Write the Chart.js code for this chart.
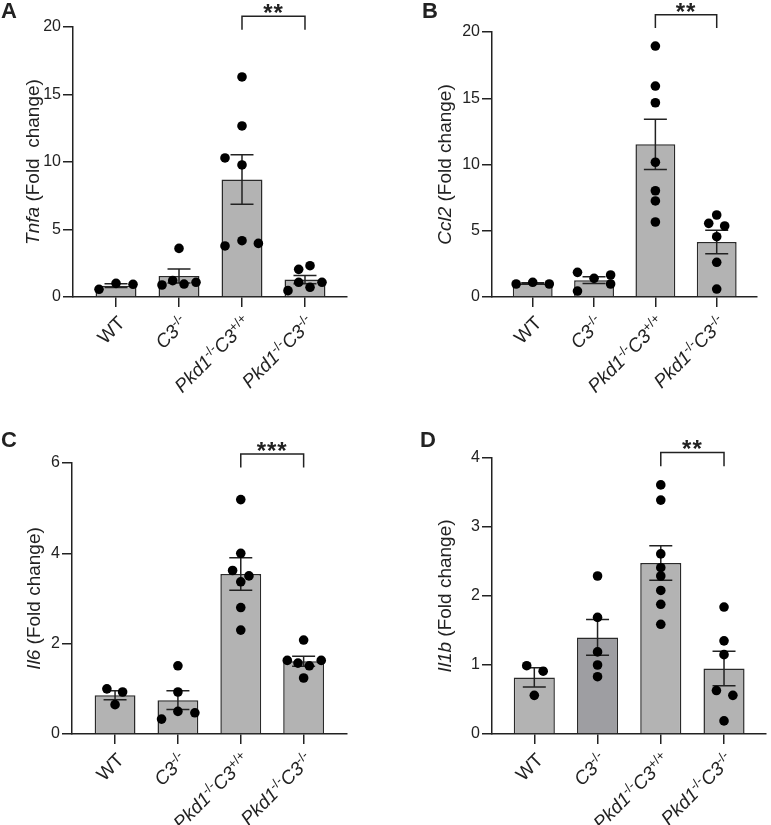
<!DOCTYPE html>
<html>
<head>
<meta charset="utf-8">
<script src="https://cdn.jsdelivr.net/npm/chart.js@4.4.1/dist/chart.umd.min.js"></script>
<style>
  body { margin: 0; background: #fff; }
  #wrap { position: relative; width: 771px; height: 825px; }
  canvas { position: absolute; }
</style>
</head>
<body>
<div id="wrap">
  <canvas id="panelA" width="386" height="412" style="left:0;top:0"></canvas>
  <canvas id="panelB" width="385" height="412" style="left:386px;top:0"></canvas>
  <canvas id="panelC" width="386" height="413" style="left:0;top:412px"></canvas>
  <canvas id="panelD" width="385" height="413" style="left:386px;top:412px"></canvas>
</div>
<script>
// groups (x categories)
const groups = ["WT", "C3-/-", "Pkd1-/-C3+/+", "Pkd1-/-C3-/-"];

// A - Tnfa
const tnfaTicks = [0, 5, 10, 15, 20];
const tnfaMean = [0.84, 1.55, 8.7, 1.29];
const tnfaSem = [0.14, 0.52, 1.83, 0.30];
const tnfaPoints = [
  [0.57, 1.01, 0.94],
  [0.89, 1.21, 3.6, 0.96, 1.09],
  [16.3, 12.67, 10.3, 9.78, 3.78, 4.17, 3.97],
  [0.47, 2.05, 1.09, 2.32, 0.72, 1.09]
];
const tnfaJitter = [
  [-0.27, 0, 0.27],
  [-0.27, -0.1, 0, 0.08, 0.27],
  [0, 0, -0.27, 0, -0.27, 0, 0.26],
  [-0.27, -0.1, -0.1, 0.08, 0.08, 0.27]
];

// B - Ccl2
const ccl2Ticks = [0, 5, 10, 15, 20];
const ccl2Mean = [1.02, 1.27, 11.52, 4.15];
const ccl2Sem = [0.05, 0.25, 1.9, 0.88];
const ccl2Points = [
  [0.98, 1.11, 0.98],
  [1.86, 0.45, 1.41, 1.66, 0.98],
  [18.94, 15.92, 14.66, 10.17, 8.02, 7.25, 5.66],
  [6.19, 5.56, 5.36, 4.55, 2.62, 0.6]
];
const ccl2Jitter = [
  [-0.27, 0, 0.27],
  [-0.27, -0.27, 0, 0.27, 0.27],
  [0, 0, 0, 0, 0, 0, 0],
  [0, -0.13, 0.13, 0, 0, 0]
];

// C - Il6
const il6Ticks = [0, 2, 4, 6];
const il6Mean = [0.86, 0.75, 3.54, 1.61];
const il6Sem = [0.1, 0.21, 0.36, 0.11];
const il6Points = [
  [1.0, 0.93, 0.65],
  [1.51, 0.93, 0.33, 0.5, 0.47],
  [5.19, 4.0, 3.62, 3.5, 3.37, 2.8, 2.3],
  [2.08, 1.63, 1.57, 1.51, 1.63, 1.24]
];
const il6Jitter = [
  [-0.13, 0.12, 0],
  [0, 0, -0.26, 0, 0.27],
  [0, 0, -0.13, 0.13, 0, 0, 0],
  [0, -0.26, -0.09, 0.09, 0.28, 0]
];

// D - Il1b
const il1bTicks = [0, 1, 2, 3, 4];
const il1bMean = [0.82, 1.4, 2.48, 0.95];
const il1bSem = [0.14, 0.26, 0.25, 0.25];
const il1bPoints = [
  [0.99, 0.91, 0.56],
  [2.29, 1.69, 1.19, 1.0, 0.83],
  [3.61, 3.39, 2.61, 2.41, 2.29, 2.08, 1.88, 1.59],
  [1.84, 1.35, 1.15, 0.63, 0.56, 0.19]
];
const il1bJitter = [
  [-0.12, 0.14, 0],
  [0, 0, 0, 0, 0],
  [0, 0, 0, 0, 0, 0, 0, 0],
  [0, 0, 0, -0.12, 0.14, 0]
];

const sigLabels = ["**", "**", "***", "**"];

const FONT = "Arial, 'Liberation Sans', sans-serif";
const INK = "#222";
const BAR = "#b3b3b3";

function drawRichLabel(ctx, text, x, y, size) {
  const italic = text !== "WT";
  const segs = text.split(/([+-]\/[+-])/).filter(s => s).map(s => {
    const sup = /^[+-]\/[+-]$/.test(s);
    const font = sup ? `${Math.round(size * 0.68)}px ${FONT}` : `${italic ? "italic " : ""}${size}px ${FONT}`;
    ctx.font = font;
    return { s, sup, font, w: ctx.measureText(s).width };
  });
  const total = segs.reduce((a, g) => a + g.w, 0);
  ctx.save();
  ctx.translate(x, y);
  ctx.rotate(-Math.PI / 4);
  ctx.textBaseline = "alphabetic";
  ctx.textAlign = "left";
  let cx = -total;
  segs.forEach(g => {
    ctx.font = g.font;
    ctx.fillText(g.s, cx, g.sup ? -size * 0.36 : 0);
    cx += g.w;
  });
  ctx.restore();
}

const overlay = {
  id: "overlay",
  afterDatasetDraw(chart, args, p) {
    if (args.index !== 0) return;
    const x = chart.scales.x, y = chart.scales.y, ctx = chart.ctx;
    ctx.save();
    ctx.strokeStyle = INK;
    ctx.lineWidth = 1.5;
    p.mean.forEach((m, i) => {
      const cx = x.getPixelForValue(i);
      const top = y.getPixelForValue(m + p.sem[i]);
      const bot = y.getPixelForValue(m - p.sem[i]);
      ctx.beginPath();
      ctx.moveTo(cx, top); ctx.lineTo(cx, bot);
      ctx.moveTo(cx - 11.5, top); ctx.lineTo(cx + 11.5, top);
      ctx.moveTo(cx - 11.5, bot); ctx.lineTo(cx + 11.5, bot);
      ctx.stroke();
    });
    ctx.restore();
  },
  afterDraw(chart, args, p) {
    const x = chart.scales.x, y = chart.scales.y, ctx = chart.ctx;
    const area = chart.chartArea;
    ctx.save();
    ctx.fillStyle = INK;
    ctx.strokeStyle = INK;

    // x labels
    groups.forEach((g, i) => {
      drawRichLabel(ctx, g, x.getPixelForValue(i) + 10, area.bottom + 27, 19);
    });

    // y title
    ctx.save();
    ctx.translate(p.titleX, (area.top + area.bottom) / 2);
    ctx.rotate(-Math.PI / 2);
    ctx.textBaseline = "middle";
    ctx.font = `italic 19px ${FONT}`;
    const gw = ctx.measureText(p.gene).width;
    ctx.font = `19px ${FONT}`;
    const rw = ctx.measureText(p.rest).width;
    let tx = -(gw + rw) / 2;
    ctx.font = `italic 19px ${FONT}`;
    ctx.fillText(p.gene, tx, 0);
    ctx.font = `19px ${FONT}`;
    ctx.fillText(p.rest, tx + gw, 0);
    ctx.restore();

    // panel letter
    ctx.font = `bold 22px ${FONT}`;
    ctx.textBaseline = "alphabetic";
    ctx.fillText(p.letter, p.letterX, p.letterY);

    // significance bracket
    const x1 = x.getPixelForValue(2), x2 = x.getPixelForValue(3);
    const bt = y.getPixelForValue(p.bracket[0]), bl = y.getPixelForValue(p.bracket[1]);
    ctx.lineWidth = 1.5;
    ctx.beginPath();
    ctx.moveTo(x1, bl); ctx.lineTo(x1, bt); ctx.lineTo(x2, bt); ctx.lineTo(x2, bl);
    ctx.stroke();
    ctx.font = `bold 24px ${FONT}`;
    ctx.letterSpacing = "1px";
    ctx.textAlign = "center";
    const m = ctx.measureText(p.sig);
    ctx.fillText(p.sig, (x1 + x2) / 2, bt - 3 - m.actualBoundingBoxDescent);
    ctx.restore();
  }
};

function buildPanel(id, d) {
  const canvas = document.getElementById(id);
  const W = canvas.width, H = canvas.height;
  const scatter = [];
  d.points.forEach((vals, i) => {
    vals.forEach((v, k) => scatter.push({ x: i + d.jitter[i][k], y: v }));
  });
  const axisGrid = { drawOnChartArea: false, drawTicks: true, tickLength: 10, color: INK, lineWidth: 1.5 };
  const axisBorder = { display: true, color: INK, width: 1.5 };
  return new Chart(canvas, {
    type: "bar",
    data: {
      datasets: [
        {
          type: "bar",
          data: d.mean.map((m, i) => ({ x: i, y: m })),
          backgroundColor: d.barColors,
          borderColor: "#2a2a2a",
          borderWidth: 1.5,
          barPercentage: 0.65,
          categoryPercentage: 1,
          order: 1
        },
        {
          type: "scatter",
          data: scatter,
          pointRadius: 4.8,
          pointBackgroundColor: "#000",
          pointBorderWidth: 0,
          order: 0
        }
      ]
    },
    options: {
      responsive: false,
      animation: false,
      devicePixelRatio: 1,
      layout: { padding: { left: 0, top: d.area.top, right: W - d.area.right, bottom: 0 } },
      plugins: {
        legend: { display: false },
        tooltip: { enabled: false },
        overlay: {
          mean: d.mean, sem: d.sem, gene: d.gene, rest: d.rest,
          titleX: d.titleX, letter: d.letter, letterX: d.letterX, letterY: d.letterY,
          bracket: d.bracket, sig: d.sig
        }
      },
      scales: {
        x: {
          type: "linear",
          offset: false,
          min: d.xRange[0],
          max: d.xRange[1],
          afterBuildTicks: s => { s.ticks = groups.map((g, i) => ({ value: i })); },
          afterFit: s => { s.height = H - d.area.bottom; },
          ticks: { display: false },
          grid: Object.assign({ offset: false }, axisGrid),
          border: axisBorder
        },
        y: {
          min: d.ticks[0],
          max: d.ticks[d.ticks.length - 1],
          afterBuildTicks: s => { s.ticks = d.ticks.map(v => ({ value: v })); },
          afterFit: s => { s.width = d.area.left; },
          ticks: { color: INK, padding: 2, font: { family: FONT, size: 16 } },
          grid: axisGrid,
          border: axisBorder
        }
      }
    },
    plugins: [overlay]
  });
}

buildPanel("panelA", {
  mean: tnfaMean, sem: tnfaSem, points: tnfaPoints, jitter: tnfaJitter, ticks: tnfaTicks,
  barColors: [BAR, BAR, BAR, BAR],
  area: { left: 73, right: 347, top: 27, bottom: 297 }, xRange: [-0.683, 3.667],
  gene: "Tnfa", rest: " (Fold  change)", titleX: 34,
  letter: "A", letterX: 1, letterY: 18, bracket: [20.8, 19.8], sig: sigLabels[0]
});

buildPanel("panelB", {
  mean: ccl2Mean, sem: ccl2Sem, points: ccl2Points, jitter: ccl2Jitter, ticks: ccl2Ticks,
  barColors: [BAR, BAR, BAR, BAR],
  area: { left: 106, right: 371, top: 32, bottom: 297 }, xRange: [-0.664, 3.657],
  gene: "Ccl2", rest: " (Fold change)", titleX: 60,
  letter: "B", letterX: 36, letterY: 18, bracket: [21.3, 20.3], sig: sigLabels[1]
});

buildPanel("panelC", {
  mean: il6Mean, sem: il6Sem, points: il6Points, jitter: il6Jitter, ticks: il6Ticks,
  barColors: [BAR, BAR, BAR, BAR],
  area: { left: 72, right: 347, top: 51, bottom: 322 }, xRange: [-0.685, 3.69],
  gene: "Il6", rest: " (Fold change)", titleX: 35,
  letter: "C", letterX: 1, letterY: 35, bracket: [6.2, 5.9], sig: sigLabels[2]
});

buildPanel("panelD", {
  mean: il1bMean, sem: il1bSem, points: il1bPoints, jitter: il1bJitter, ticks: il1bTicks,
  barColors: [BAR, "#9e9ea2", BAR, BAR],
  area: { left: 106, right: 383, top: 46, bottom: 322 }, xRange: [-0.669, 3.667],
  gene: "Il1b", rest: " (Fold change)", titleX: 60,
  letter: "D", letterX: 34, letterY: 35, bracket: [4.08, 3.88], sig: sigLabels[3]
});
</script>
</body>
</html>
